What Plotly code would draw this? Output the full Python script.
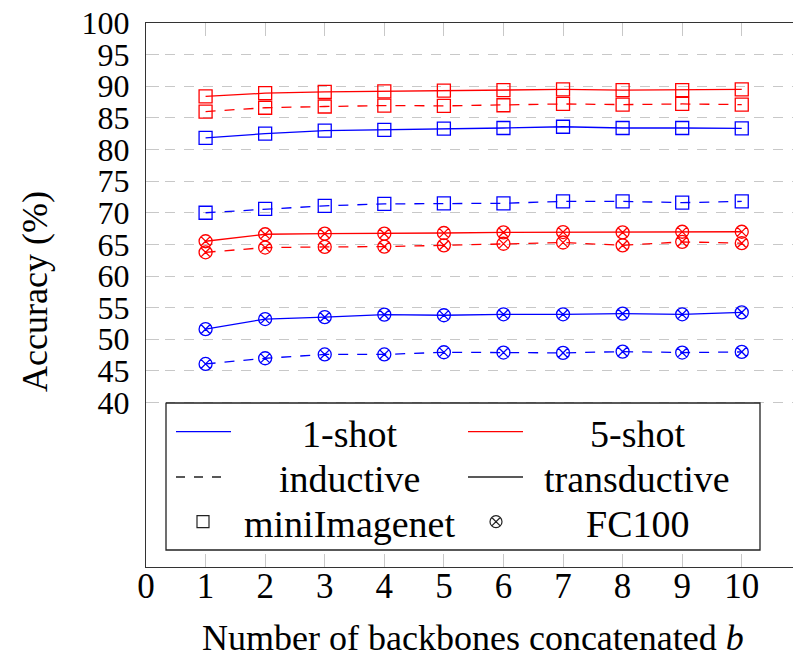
import plotly.graph_objects as go

# ---------------- data ----------------
b = [1, 2, 3, 4, 5, 6, 7, 8, 9, 10]
mini_1shot_ind = [70.0, 70.6, 71.1, 71.4, 71.5, 71.5, 71.8, 71.8, 71.6, 71.8]
mini_1shot_trans = [81.85, 82.5, 83.0, 83.1, 83.3, 83.4, 83.6, 83.4, 83.4, 83.35]
mini_5shot_ind = [86.0, 86.6, 86.8, 86.95, 86.9, 87.0, 87.2, 87.1, 87.2, 87.1]
mini_5shot_trans = [88.4, 88.9, 89.1, 89.2, 89.3, 89.4, 89.5, 89.4, 89.4, 89.5]
fc_1shot_ind = [46.1, 47.0, 47.6, 47.6, 47.95, 47.9, 47.85, 48.05, 47.9, 48.0]
fc_1shot_trans = [51.6, 53.2, 53.5, 53.9, 53.8, 53.95, 53.95, 54.05, 53.95, 54.25]
fc_5shot_ind = [63.75, 64.5, 64.6, 64.65, 64.85, 65.1, 65.3, 64.85, 65.4, 65.2]
fc_5shot_trans = [65.5, 66.6, 66.7, 66.7, 66.8, 66.9, 66.95, 66.9, 67.0, 67.0]

x_ticks = [0, 1, 2, 3, 4, 5, 6, 7, 8, 9, 10]
y_ticks = [40, 45, 50, 55, 60, 65, 70, 75, 80, 85, 90, 95, 100]

legend_rows = [("1-shot", "5-shot"), ("inductive", "transductive"), ("miniImagenet", "FC100")]

# ---------------- layout constants ----------------
W, H = 793, 662
L, R, T, B = 146, 0, 23, 95
FONT = "Liberation Serif, Times New Roman, DejaVu Serif, serif"
BLUE, RED = "#0000ff", "#ff0000"
DASH = "10px,9px"
LW = 1.3
MS = 13


def ux(px):
    return (px - L) / (W - L - R)


def uy(py):
    return (H - B - py) / (H - T - B)


fig = go.Figure()

series = [
    (mini_1shot_ind, BLUE, DASH, "square-open"),
    (mini_1shot_trans, BLUE, "solid", "square-open"),
    (fc_1shot_ind, BLUE, DASH, "circle-x-open"),
    (fc_1shot_trans, BLUE, "solid", "circle-x-open"),
    (mini_5shot_ind, RED, DASH, "square-open"),
    (mini_5shot_trans, RED, "solid", "square-open"),
    (fc_5shot_ind, RED, DASH, "circle-x-open"),
    (fc_5shot_trans, RED, "solid", "circle-x-open"),
]
for vals, col, dash, sym in series:
    fig.add_trace(go.Scatter(
        x=b, y=vals, mode="lines+markers",
        line=dict(color=col, width=LW, dash=dash),
        marker=dict(symbol=sym, size=MS, color=col, line=dict(color=col, width=1.3)),
        showlegend=False, hoverinfo="skip",
    ))

# ---------------- manual legend on overlay axes ----------------
lx0, lx1, ly0, ly1 = 166, 760, 403, 550
fig.add_trace(go.Scatter(
    x=[ux(lx0), ux(lx1), ux(lx1), ux(lx0), ux(lx0)],
    y=[uy(ly0), uy(ly0), uy(ly1), uy(ly1), uy(ly0)],
    mode="lines", fill="toself", fillcolor="white",
    line=dict(color="#222222", width=1.3),
    xaxis="x2", yaxis="y2", showlegend=False, hoverinfo="skip",
))
row_y = [431.7, 477, 521.7]
samples = [
    (176, 231, row_y[0], BLUE, "solid"),
    (468, 523, row_y[0], RED, "solid"),
    (176, 224, row_y[1], "#222222", "9px,9px"),
    (468, 523, row_y[1], "#222222", "solid"),
]
for a, c, yy, col, dash in samples:
    fig.add_trace(go.Scatter(
        x=[ux(a), ux(c)], y=[uy(yy), uy(yy)], mode="lines",
        line=dict(color=col, width=LW, dash=dash),
        xaxis="x2", yaxis="y2", showlegend=False, hoverinfo="skip",
    ))
for px, sym in [(203, "square-open"), (496, "circle-x-open")]:
    fig.add_trace(go.Scatter(
        x=[ux(px)], y=[uy(row_y[2])], mode="markers",
        marker=dict(symbol=sym, size=12, color="#222222", line=dict(color="#222222", width=1.2)),
        xaxis="x2", yaxis="y2", showlegend=False, hoverinfo="skip",
    ))

annotations = []
for (left_txt, right_txt), yy in zip(legend_rows, row_y):
    for txt, cx in [(left_txt, 349), (right_txt, 637)]:
        annotations.append(dict(
            x=ux(cx), y=uy(yy + 2), xref="paper", yref="paper", text=txt,
            showarrow=False, xanchor="center", yanchor="middle",
            font=dict(family=FONT, size=38, color="black"),
        ))
annotations.append(dict(
    x=ux(473), y=uy(638), xref="paper", yref="paper",
    text="Number of backbones concatenated <i>b</i>", showarrow=False,
    xanchor="center", yanchor="middle", font=dict(family=FONT, size=36, color="black"),
))
annotations.append(dict(
    x=ux(35), y=uy(292), xref="paper", yref="paper",
    text="Accuracy (%)", showarrow=False, textangle=-90,
    xanchor="center", yanchor="middle", font=dict(family=FONT, size=36, color="black"),
))

fig.update_layout(
    width=W, height=H,
    margin=dict(l=L, r=R, t=T, b=B, pad=0),
    paper_bgcolor="white", plot_bgcolor="white",
    font=dict(family=FONT, size=33, color="black"),
    annotations=annotations,
    xaxis=dict(
        range=[0, 10.86], tickmode="array", tickvals=x_ticks,
        ticktext=[str(v) for v in x_ticks],
        ticks="inside", ticklen=13, tickcolor="#c8c8c8", tickwidth=1.3,
        showline=True, linecolor="#333333", linewidth=1.4, mirror="allticks",
        showgrid=False, zeroline=False, ticklabelstandoff=-12,
        tickfont=dict(family=FONT, size=35),
    ),
    yaxis=dict(
        range=[14, 100], tickmode="array", tickvals=y_ticks,
        ticktext=[str(v) for v in y_ticks],
        ticks="inside", ticklen=13, tickcolor="#c8c8c8", tickwidth=1.3,
        showline=True, linecolor="#333333", linewidth=1.4, mirror=False,
        showgrid=True, gridcolor="#c8c8c8", gridwidth=1.3, griddash="10px,9px",
        zeroline=False, ticklabelstandoff=9,
        tickfont=dict(family=FONT, size=32),
    ),
    xaxis2=dict(overlaying="x", range=[0, 1], visible=False, fixedrange=True),
    yaxis2=dict(overlaying="y", range=[0, 1], visible=False, fixedrange=True),
)

fig.write_html("out.html")
